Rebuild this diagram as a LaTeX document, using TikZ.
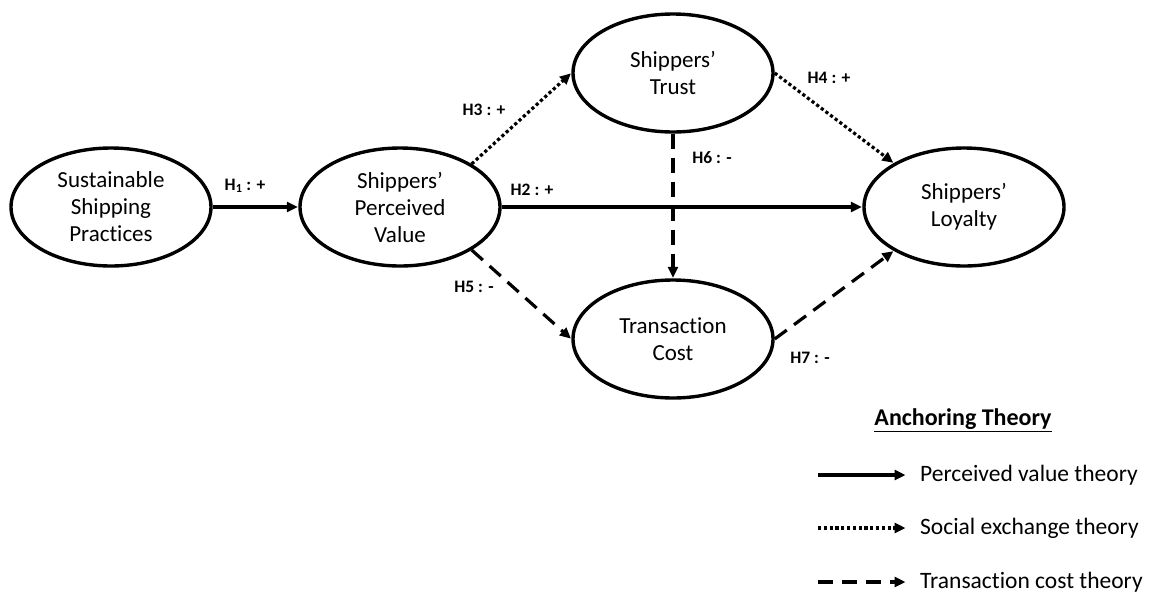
\documentclass[tikz,border=0pt]{standalone}
\usepackage{fontspec}
\setmainfont{Carlito}[Ligatures=NoCommon]
\usetikzlibrary{shapes.geometric,arrows.meta}
\begin{document}
\begin{tikzpicture}[x=1pt,y=-1pt,
  construct/.style={ellipse,draw,line width=3.4pt,minimum width=200pt,minimum height=118pt,
    inner sep=0pt,align=center,font=\fontsize{23}{27}\selectfont},
  link/.style={line width=3.2pt,-{Triangle[length=11pt,width=10pt]},shorten >=0.5pt},
  solidlink/.style={link},
  dotlink/.style={link,dash pattern=on 3.2pt off 2.6pt},
  dashlink/.style={link,dash pattern=on 15pt off 9pt},
  hyp/.style={font=\bfseries\fontsize{17.5}{20}\selectfont,inner sep=1pt},
  legtext/.style={anchor=west,font=\fontsize{23.5}{28}\selectfont,inner sep=0pt}]
\useasboundingbox (0,0) rectangle (1149,598);

% constructs
\node[construct] (ssp)   at (111,207) {Sustainable\\Shipping\\Practices};
\node[construct] (spv)   at (400,207) {Shippers’\\Perceived\\Value};
\node[construct] (trust) at (673,73)  {Shippers’\\Trust};
\node[construct] (tc)    at (673,339) {Transaction\\Cost};
\node[construct] (loy)   at (964,207) {Shippers’\\Loyalty};

% hypothesised paths
\draw[solidlink] (ssp.east) -- (spv.west);
\draw[solidlink] (spv.east) -- (loy.west);
\draw[dotlink]   (spv.31) -- (trust.west);
\draw[dotlink]   (trust.east) -- (loy.148);
\draw[dashlink]  (spv.-31) -- (tc.west);
\draw[dashlink]  (trust.south) -- (tc.north);
\draw[dashlink]  (tc.east) -- (loy.212);

% path labels
\node[hyp] (h1) at (245,186) {H\textsubscript{1} : +};
\node[hyp] (h2) at (532,190) {H2 : +};
\node[hyp] (h3) at (484,110) {H3 : +};
\node[hyp] (h4) at (829,78)  {H4 : +};
\node[hyp] (h5) at (474,287) {H5 : -};
\node[hyp] (h6) at (712,158) {H6 : -};
\node[hyp] (h7) at (810,358) {H7 : -};

% legend
\node[font=\bfseries\fontsize{24}{28}\selectfont] (legtitle) at (963,420) {\underline{Anchoring Theory}};
\coordinate (l1a) at (818,475); \coordinate (l1b) at (906,475);
\coordinate (l2a) at (818,528); \coordinate (l2b) at (906,528);
\coordinate (l3a) at (818,582); \coordinate (l3b) at (906,582);
\draw[solidlink] (l1a) -- (l1b);
\draw[dotlink]   (l2a) -- (l2b);
\draw[dashlink]  (l3a) -- (l3b);
\node[legtext] (t1) at (920,475) {Perceived value theory};
\node[legtext] (t2) at (920,528) {Social exchange theory};
\node[legtext] (t3) at (920,582) {Transaction cost theory};
\end{tikzpicture}
\end{document}
